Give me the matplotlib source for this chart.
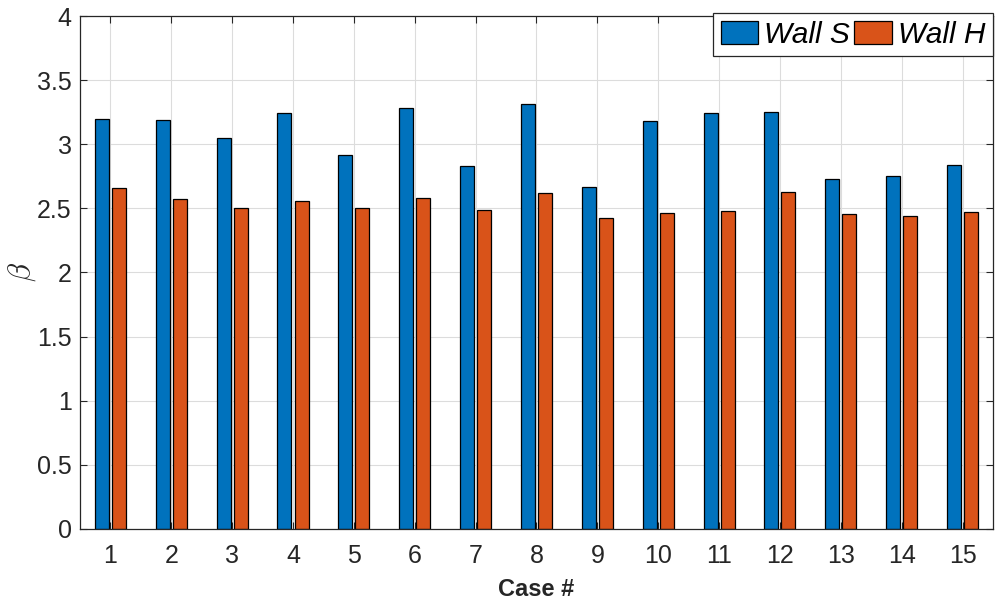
import numpy as np
import matplotlib
matplotlib.use("Agg")
import matplotlib.pyplot as plt

cases = list(range(1, 16))
wall_s = [3.20, 3.19, 3.05, 3.24, 2.92, 3.285, 2.83, 3.31, 2.67, 3.18, 3.24, 3.25, 2.73, 2.75, 2.84]
wall_h = [2.66, 2.575, 2.50, 2.56, 2.50, 2.58, 2.49, 2.62, 2.425, 2.465, 2.48, 2.625, 2.455, 2.44, 2.47]

blue = '#0072BD'
orange = '#D95319'
axcol = '#262626'

plt.rcParams['font.family'] = ['Liberation Sans', 'DejaVu Sans']
plt.rcParams['mathtext.fontset'] = 'cm'

fig = plt.figure(figsize=(9.97, 6.02), dpi=100)
ax = fig.add_axes([0.0802, 0.1213, 0.9158, 0.8521])

x = np.array(cases)
w = 0.23
ax.bar(x - 0.14, wall_s, width=w, color=blue, edgecolor='black', linewidth=0.9,
       label='Wall S', zorder=2)
ax.bar(x + 0.14, wall_h, width=w, color=orange, edgecolor='black', linewidth=0.9,
       label='Wall H', zorder=2)

ax.set_xlim(0.5, 15.5)
ax.set_ylim(0, 4)
ax.set_xticks(cases)
ax.set_yticks(np.arange(0, 4.01, 0.5))
ax.set_yticklabels(['0', '0.5', '1', '1.5', '2', '2.5', '3', '3.5', '4'])

ax.grid(True, color='#dcdcdc', linewidth=0.8, zorder=0)
ax.set_axisbelow(True)
ax.tick_params(direction='in', length=5, width=0.8, colors=axcol,
               labelsize=18, top=True, right=True)
ax.tick_params(axis='x', pad=11)
ax.tick_params(axis='y', pad=6)
for s in ax.spines.values():
    s.set_color(axcol)
    s.set_linewidth(0.9)

ax.set_xlabel('Case #', fontsize=17, fontweight='bold', color=axcol, labelpad=7)
ax.set_ylabel(r'$\beta$', fontsize=22, color=axcol, va='center')
ax.yaxis.set_label_coords(-0.063, 0.5)

leg = ax.legend(loc='upper right', ncol=2, prop={'style': 'italic', 'size': 21.5},
                frameon=True, fancybox=False, framealpha=1, edgecolor=axcol,
                borderaxespad=0, bbox_to_anchor=(1.0, 1.006),
                handlelength=1.25, handleheight=0.78, handletextpad=0.2,
                columnspacing=0.15, borderpad=0.26)
leg.get_frame().set_linewidth(0.9)
leg.set_zorder(5)

fig.savefig('out.png', dpi=100)
